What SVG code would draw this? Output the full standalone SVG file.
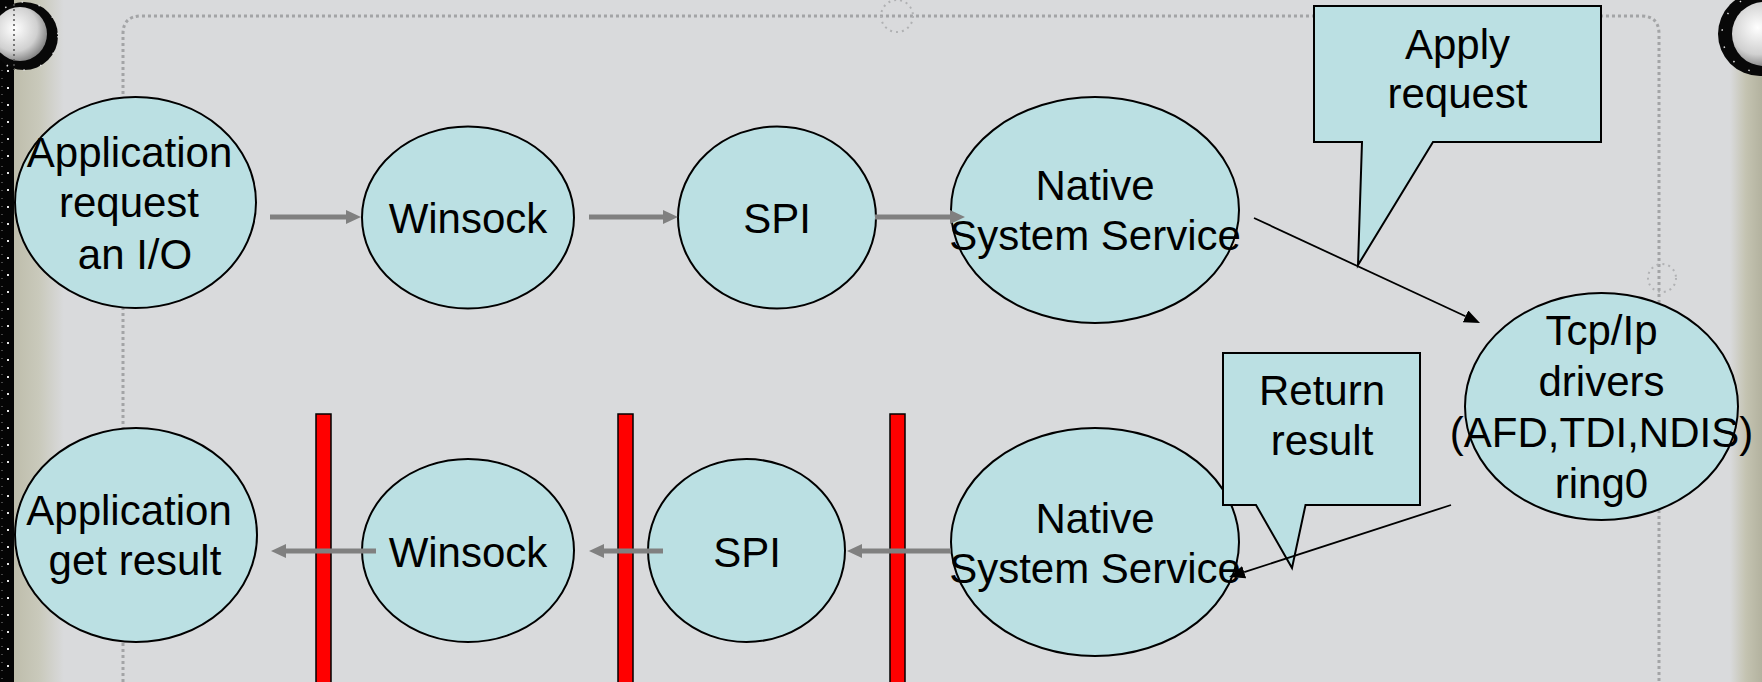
<svg xmlns="http://www.w3.org/2000/svg" width="1762" height="682" viewBox="0 0 1762 682">
<defs>
<linearGradient id="leftStrip" x1="0" y1="0" x2="1" y2="0">
<stop offset="0" stop-color="#bebdab"/>
<stop offset="0.5" stop-color="#c9c9bb"/>
<stop offset="1" stop-color="#d9dadc"/>
</linearGradient>
<linearGradient id="rightStrip" x1="0" y1="0" x2="1" y2="0">
<stop offset="0" stop-color="#d9dadc"/>
<stop offset="0.5" stop-color="#c4c3b1"/>
<stop offset="1" stop-color="#b3b29f"/>
</linearGradient>
<radialGradient id="silver" cx="0.4" cy="0.4" r="0.7">
<stop offset="0" stop-color="#ffffff"/>
<stop offset="0.6" stop-color="#d0d0d0"/>
<stop offset="1" stop-color="#6a6a6a"/>
</radialGradient>
<marker id="gh" markerUnits="userSpaceOnUse" markerWidth="16" markerHeight="16" refX="0" refY="7" orient="auto">
<path d="M0,0 L15,7 L0,14 Z" fill="#808080"/>
</marker>
<marker id="bh" markerUnits="userSpaceOnUse" markerWidth="18" markerHeight="14" refX="0" refY="6.5" orient="auto">
<path d="M0,0 L16,6.5 L0,13 Z" fill="#000"/>
</marker>
</defs>
<style>
.n { fill:#bbe0e3; stroke:#000; stroke-width:2; }
.t { font-family:"Liberation Sans", Arial, sans-serif; font-size:42px; text-anchor:middle; fill:#000; }
.ga { stroke:#808080; stroke-width:5; fill:none; marker-end:url(#gh); }
.ba { stroke:#000; stroke-width:1.8; fill:none; marker-end:url(#bh); }
.bar { fill:#ff0000; stroke:#000; stroke-width:1.5; }
.dot { fill:none; stroke:#a3a4a6; stroke-width:3; stroke-dasharray:3 3; }
</style>

<g id="background">
<rect x="0" y="0" width="1762" height="682" fill="#d9dadc"/>
<rect x="14" y="0" width="50" height="682" fill="url(#leftStrip)"/>
<rect x="0" y="0" width="14" height="682" fill="#050505"/>
<line x1="8" y1="70" x2="8" y2="682" stroke="#e8e8e8" stroke-width="2" stroke-dasharray="2 15"/>
<line x1="2" y1="70" x2="2" y2="682" stroke="#8a8a8a" stroke-width="1" stroke-dasharray="1 7"/>
<rect x="1730" y="0" width="32" height="682" fill="url(#rightStrip)"/>
<circle cx="24" cy="36" r="34" fill="#080808"/>
<circle cx="24" cy="36" r="34" fill="none" stroke="#e0e0e0" stroke-width="1.5" stroke-dasharray="1.5 16"/>
<circle cx="20" cy="34" r="27" fill="url(#silver)"/>
<line x1="14" y1="4" x2="14" y2="70" stroke="#555" stroke-width="1.5" stroke-dasharray="2 3"/>
<circle cx="1760" cy="34" r="42" fill="#080808"/>
<circle cx="1760" cy="34" r="38" fill="none" stroke="#e0e0e0" stroke-width="1.5" stroke-dasharray="1.5 16"/>
<circle cx="1764" cy="34" r="32" fill="url(#silver)"/>
<path class="dot" d="M123,682 V34 Q123,16 141,16 H1641 Q1659,16 1659,34 V682"/>
<circle cx="897" cy="16" r="16" fill="none" stroke="#b0b1b3" stroke-width="2" stroke-dasharray="2 4"/>
<circle cx="1662" cy="278" r="14" fill="none" stroke="#b0b1b3" stroke-width="2" stroke-dasharray="2 4"/>
</g>

<g id="barriers">
<rect class="bar" x="316" y="414" width="15" height="290"/>
<rect class="bar" x="618" y="414" width="15" height="290"/>
<rect class="bar" x="890" y="414" width="15" height="290"/>
</g>

<g id="app-request">
<ellipse class="n" cx="135.5" cy="202.5" rx="120.5" ry="105.5"/>
<text class="t" x="129.5" y="167">Application</text>
<text class="t" x="129" y="217">request</text>
<text class="t" x="135" y="269">an I/O</text>
</g>
<g id="winsock-top">
<ellipse class="n" cx="468" cy="217.5" rx="106" ry="91"/>
<text class="t" x="468" y="233">Winsock</text>
</g>
<g id="spi-top">
<ellipse class="n" cx="777" cy="217.5" rx="99" ry="91"/>
<text class="t" x="777" y="233">SPI</text>
</g>
<g id="native-top">
<ellipse class="n" cx="1095" cy="210" rx="144" ry="113"/>
<text class="t" x="1095" y="200">Native</text>
<text class="t" x="1095" y="250">System Service</text>
</g>
<g id="tcpip">
<ellipse class="n" cx="1601.5" cy="406.5" rx="136.5" ry="113.5"/>
<text class="t" x="1601.5" y="345">Tcp/Ip</text>
<text class="t" x="1601.5" y="396">drivers</text>
<text class="t" x="1601.5" y="447">(AFD,TDI,NDIS)</text>
<text class="t" x="1601.5" y="498">ring0</text>
</g>
<g id="app-result">
<ellipse class="n" cx="136" cy="535" rx="121" ry="107"/>
<text class="t" x="129" y="525">Application</text>
<text class="t" x="135" y="575">get result</text>
</g>
<g id="winsock-bottom">
<ellipse class="n" cx="468" cy="550.5" rx="106" ry="91.5"/>
<text class="t" x="468" y="567">Winsock</text>
</g>
<g id="spi-bottom">
<ellipse class="n" cx="746.5" cy="550.5" rx="98.5" ry="91.5"/>
<text class="t" x="747" y="567">SPI</text>
</g>
<g id="native-bottom">
<ellipse class="n" cx="1095" cy="542" rx="144" ry="114"/>
<text class="t" x="1095" y="533">Native</text>
<text class="t" x="1095" y="583">System Service</text>
</g>
<g id="callout-apply">
<path class="n" d="M1314,6 H1601 V142 H1433 L1358,265 L1362,142 H1314 Z"/>
<text class="t" x="1457.5" y="59">Apply</text>
<text class="t" x="1457.5" y="108">request</text>
</g>
<g id="callout-return">
<path class="n" d="M1223,353 H1420 V505 H1305.5 L1292,568 L1256,505 H1223 Z"/>
<text class="t" x="1322" y="405">Return</text>
<text class="t" x="1322" y="455">result</text>
</g>

<g id="connectors">
<line class="ga" x1="270" y1="217" x2="346" y2="217"/>
<line class="ga" x1="589" y1="217" x2="663" y2="217"/>
<line class="ga" x1="875" y1="217" x2="950" y2="217"/>
<line class="ga" x1="376" y1="551" x2="286" y2="551"/>
<line class="ga" x1="663" y1="551" x2="604" y2="551"/>
<line class="ga" x1="951" y1="551" x2="862" y2="551"/>
<line class="ba" x1="1254" y1="218" x2="1465.5" y2="316.3"/>
<line class="ba" x1="1451" y1="505" x2="1244.2" y2="572.1"/>
</g>
</svg>
